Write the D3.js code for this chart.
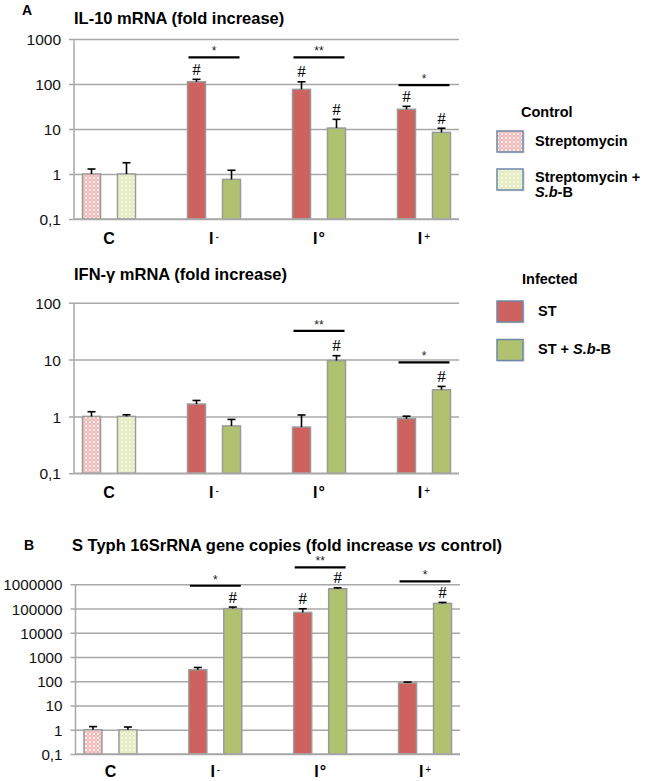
<!DOCTYPE html>
<html>
<head>
<meta charset="utf-8">
<script src="https://cdn.jsdelivr.net/npm/d3@7"></script>
<style>
  body { margin: 0; background: #fff; }
  svg { display: block; font-family: "Liberation Sans", Arial, sans-serif; }
</style>
</head>
<body>
<svg id="chart" width="646" height="781"></svg>
<script>
// ---------------- DATA ----------------
const categories = ["C", "I-", "I°", "I+"];
const categorySup = ["", "-", "°", "+"];
const seriesNames = ["first", "second"];

// IL-10 mRNA (fold increase)
const il10First = [1, 112, 76, 27.4];
const il10FirstTop = [1.29, 127, 112, 31.9];
const il10Second = [1, 0.76, 10.5, 8.4];
const il10SecondTop = [1.78, 1.21, 16.4, 10.4];
const il10Hash = [[false, false], [true, false], [true, true], [true, true]];
const il10Sig = [null, ["*", 392], ["**", 392], ["*", 94]];
const il10Ticks = [0.1, 1, 10, 100, 1000];

// IFN-gamma mRNA (fold increase)
const ifnFirst = [1, 1.65, 0.65, 0.91];
const ifnFirstTop = [1.21, 1.91, 1.06, 1.01];
const ifnSecond = [1, 0.68, 9.6, 2.95];
const ifnSecondTop = [1.07, 0.886, 11.7, 3.37];
const ifnHash = [[false, false], [false, false], [false, true], [false, true]];
const ifnSig = [null, null, ["**", 32], ["*", 8.9]];
const ifnTicks = [0.1, 1, 10, 100];

// S Typh 16SrRNA gene copies
const copFirst = [1, 299, 69000, 85];
const copFirstTop = [1.35, 371, 98000, 93];
const copSecond = [1, 100000, 656000, 163000];
const copSecondTop = [1.3, 115000, 720000, 179000];
const copHash = [[false, false], [false, true], [true, true], [false, true]];
const copSig = [null, ["*", 871000], ["**", 4960000], ["*", 1310000]];
const copTicks = [0.1, 1, 10, 100, 1000, 10000, 100000, 1000000];

// Legend
const legendControl = ["Streptomycin", "Streptomycin +"];
const legendInfected = ["ST", "ST + "];

// ---------------- STYLE ----------------
const RED = "#cd625e";
const GREEN = "#b0c270";
const GRID = "#a8a8a8";
const BAR_STROKE = "#9a9a9a";

const svg = d3.select("#chart");
const defs = svg.append("defs");

function makePattern(id, bg, dot) {
  const p = defs.append("pattern").attr("id", id)
    .attr("patternUnits", "userSpaceOnUse").attr("width", 4).attr("height", 4);
  p.append("rect").attr("width", 4).attr("height", 4).attr("fill", bg);
  p.append("circle").attr("cx", 2).attr("cy", 2).attr("r", 1.25).attr("fill", dot);
  [[0, 0], [4, 0], [0, 4], [4, 4]].forEach(([cx, cy]) =>
    p.append("circle").attr("cx", cx).attr("cy", cy).attr("r", 0.8).attr("fill", dot));
}
makePattern("patRed", "#eeb0ae", "#fdf3f2");
makePattern("patGreen", "#dfe8b4", "#fbfdf0");

const fmtTick = v => v < 1 ? String(v).replace(".", ",") : d3.format("d")(v);

function panel(opts) {
  const g = svg.append("g");
  const x = d3.scaleBand().domain(categories).range([opts.x0, opts.x1])
    .paddingInner(1 / 3).paddingOuter(0);
  const xs = d3.scaleBand().domain(seriesNames).range([0, x.bandwidth()])
    .paddingInner(17 / 35).paddingOuter(0.243);
  const y = d3.scaleLog().domain([opts.ticks[0], opts.ticks[opts.ticks.length - 1]])
    .range([opts.yBottom, opts.yTop]);

  // grid + ticks
  const yAxis = d3.axisLeft(y).tickValues(opts.ticks).tickFormat(fmtTick)
    .tickSize(-(opts.x1 - opts.x0)).tickPadding(13);
  const ag = g.append("g").attr("transform", `translate(${opts.x0},0)`).call(yAxis);
  ag.select(".domain").remove();
  ag.selectAll(".tick line").attr("stroke", GRID).attr("stroke-width", 1.5)
    .attr("x1", -5);
  ag.selectAll(".tick text").attr("font-size", opts.tickFont).attr("fill", "#111")
    .attr("font-family", "'Liberation Sans', Arial, sans-serif").attr("dy", "0.36em");
  // vertical axis line
  g.append("line").attr("x1", opts.x0).attr("x2", opts.x0)
    .attr("y1", y.range()[1]).attr("y2", y.range()[0])
    .attr("stroke", GRID).attr("stroke-width", 1.5);

  // bars
  const rows = [];
  categories.forEach((c, i) => {
    rows.push({ c, i, s: "first", v: opts.first[i], top: opts.firstTop[i], hash: opts.hash[i][0] });
    rows.push({ c, i, s: "second", v: opts.second[i], top: opts.secondTop[i], hash: opts.hash[i][1] });
  });
  const fillOf = d => d.i === 0 ? (d.s === "first" ? "url(#patRed)" : "url(#patGreen)")
    : (d.s === "first" ? RED : GREEN);
  const bx = d => x(d.c) + xs(d.s);
  const bw = xs.bandwidth();

  g.selectAll("rect.bar").data(rows).join("rect").attr("class", "bar")
    .attr("x", bx).attr("width", bw)
    .attr("y", d => y(d.v)).attr("height", d => y.range()[0] - y(d.v))
    .attr("fill", fillOf).attr("stroke", BAR_STROKE).attr("stroke-width", 1.5);

  // error bars
  g.selectAll("line.err").data(rows).join("line").attr("class", "err")
    .attr("x1", d => bx(d) + bw / 2).attr("x2", d => bx(d) + bw / 2)
    .attr("y1", d => y(d.v)).attr("y2", d => y(d.top))
    .attr("stroke", "#000").attr("stroke-width", 1.6);
  g.selectAll("line.cap").data(rows).join("line").attr("class", "cap")
    .attr("x1", d => bx(d) + bw / 2 - 4).attr("x2", d => bx(d) + bw / 2 + 4)
    .attr("y1", d => y(d.top)).attr("y2", d => y(d.top))
    .attr("stroke", "#000").attr("stroke-width", 1.6);

  // baseline axis
  g.append("line").attr("x1", opts.x0).attr("x2", opts.x1)
    .attr("y1", y.range()[0]).attr("y2", y.range()[0])
    .attr("stroke", GRID).attr("stroke-width", 1.5);

  // hash marks
  g.selectAll("text.hash").data(rows.filter(d => d.hash)).join("text").attr("class", "hash")
    .attr("x", d => bx(d) + bw / 2).attr("y", d => y(d.top) - 4.5)
    .attr("text-anchor", "middle").attr("font-family", "'Liberation Serif', serif")
    .attr("font-size", 17).attr("fill", "#000").text("#");

  // significance lines
  const sigs = categories.map((c, i) => opts.sig[i] ? { c, label: opts.sig[i][0], level: opts.sig[i][1] } : null)
    .filter(d => d);
  g.selectAll("line.sig").data(sigs).join("line").attr("class", "sig")
    .attr("x1", d => x(d.c) + xs("first") + 1).attr("x2", d => x(d.c) + xs("second") + bw - 1)
    .attr("y1", d => y(d.level)).attr("y2", d => y(d.level))
    .attr("stroke", "#000").attr("stroke-width", 2.2);
  g.selectAll("text.sig").data(sigs).join("text").attr("class", "sig")
    .attr("x", d => x(d.c) + x.bandwidth() / 2).attr("y", d => y(d.level) - 2)
    .attr("text-anchor", "middle").attr("font-size", 12).attr("fill", "#222")
    .text(d => d.label);

  // category labels
  const cl = g.selectAll("text.cat").data(categories).join("text").attr("class", "cat")
    .attr("x", d => x(d) + x.bandwidth() / 2).attr("y", y.range()[0] + opts.catGap)
    .attr("text-anchor", "middle").attr("font-weight", "bold").attr("font-size", 16)
    .attr("fill", "#000");
  cl.each(function (d, i) {
    const t = d3.select(this);
    t.append("tspan").text(d.charAt(0));
    const s = categorySup[i];
    if (s === "°") {
      t.append("tspan").attr("font-size", 16).attr("dx", 1).text(s);
    } else if (s) {
      t.append("tspan").attr("font-size", 10).attr("dx", 2).attr("dy", -4)
        .attr("font-weight", "normal").text(s);
    }
  });

  return { x, y };
}

// ---------------- PANELS ----------------
panel({ x0: 74, x1: 459, yTop: 39, yBottom: 219, ticks: il10Ticks,
  first: il10First, firstTop: il10FirstTop, second: il10Second, secondTop: il10SecondTop,
  hash: il10Hash, sig: il10Sig, tickFont: 15.5, catGap: 25 });
panel({ x0: 74, x1: 459, yTop: 302.7, yBottom: 473.3, ticks: ifnTicks,
  first: ifnFirst, firstTop: ifnFirstTop, second: ifnSecond, secondTop: ifnSecondTop,
  hash: ifnHash, sig: ifnSig, tickFont: 15.5, catGap: 25 });
panel({ x0: 75.5, x1: 460, yTop: 584.3, yBottom: 754, ticks: copTicks,
  first: copFirst, firstTop: copFirstTop, second: copSecond, secondTop: copSecondTop,
  hash: copHash, sig: copSig, tickFont: 15.2, catGap: 23 });

// ---------------- TITLES ----------------
function title(txt, xx, yy) {
  return svg.append("text").attr("x", xx).attr("y", yy).attr("font-weight", "bold")
    .attr("font-size", 16.5).attr("fill", "#000").text(txt);
}
svg.append("text").attr("x", 22).attr("y", 15).attr("font-weight", "bold").attr("font-size", 14).text("A");
title("IL-10 mRNA (fold increase)", 74, 24);
title("IFN-γ mRNA (fold increase)", 74, 280);
svg.append("text").attr("x", 24).attr("y", 550).attr("font-weight", "bold").attr("font-size", 14).text("B");
const t3 = title("S Typh 16SrRNA gene copies (fold increase ", 72, 551);
t3.append("tspan").attr("font-style", "italic").text("vs");
t3.append("tspan").text(" control)");

// ---------------- LEGEND ----------------
const lg = svg.append("g").attr("font-weight", "bold").attr("font-size", 14.5).attr("fill", "#000");
function swatch(yy, fill) {
  lg.append("rect").attr("x", 499).attr("y", yy + 1.5).attr("width", 26).attr("height", 21)
    .attr("fill", "#d8d8d8").attr("opacity", 0.6);
  lg.append("rect").attr("x", 497).attr("y", yy).attr("width", 26).attr("height", 21)
    .attr("fill", fill).attr("stroke", "#6e88a8").attr("stroke-width", 1.5);
}
lg.append("text").attr("x", 521).attr("y", 117).text("Control");
swatch(131, "url(#patRed)");
lg.append("text").attr("x", 535).attr("y", 146).text(legendControl[0]);
swatch(169, "url(#patGreen)");
lg.append("text").attr("x", 535).attr("y", 181.5).text(legendControl[1]);
const sb1 = lg.append("text").attr("x", 535).attr("y", 197);
sb1.append("tspan").attr("font-style", "italic").text("S.b");
sb1.append("tspan").text("-B");

lg.append("text").attr("x", 522).attr("y", 283.5).text("Infected");
swatch(301, RED);
lg.append("text").attr("x", 538).attr("y", 316).text(legendInfected[0]);
swatch(339.5, GREEN);
const sb2 = lg.append("text").attr("x", 538).attr("y", 353.5);
sb2.append("tspan").text(legendInfected[1]);
sb2.append("tspan").attr("font-style", "italic").text("S.b");
sb2.append("tspan").text("-B");
</script>
</body>
</html>
